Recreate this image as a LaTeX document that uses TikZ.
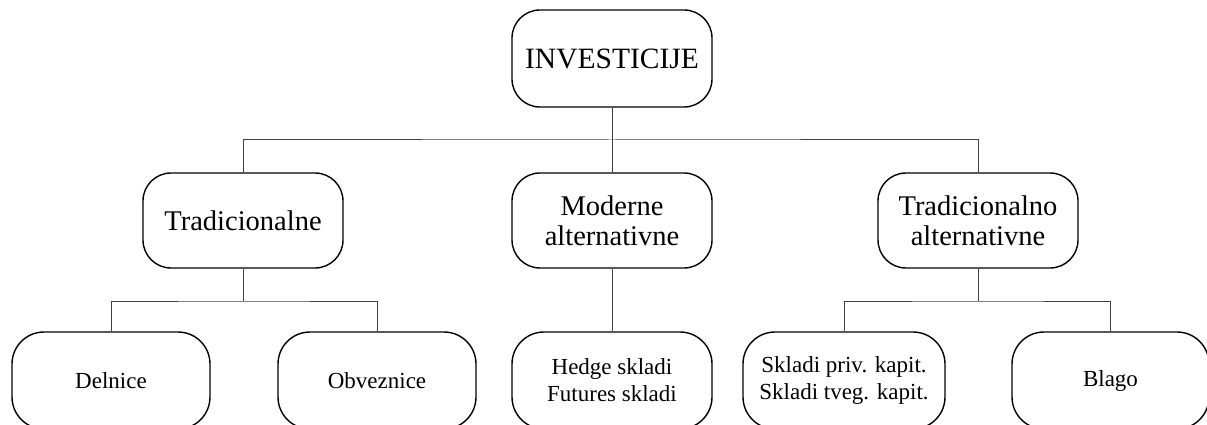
\documentclass[tikz,border=0pt]{standalone}
\usepackage{fontspec}
\setmainfont{Liberation Serif}
\begin{document}
\begin{tikzpicture}[x=1pt,y=-1pt,
  box/.style={draw=black,line width=1.4pt,rounded corners=28pt,align=center,inner sep=0pt},
  topbox/.style={box,minimum width=200pt,minimum height=97pt,font=\fontsize{29.5}{32}\selectfont},
  midbox/.style={box,minimum width=200pt,minimum height=95pt,font=\fontsize{28.5}{30}\selectfont},
  lowbox/.style={box,rounded corners=32pt,minimum width=198pt,minimum height=97pt,font=\fontsize{23}{27}\selectfont},
  conn/.style={draw=black!75,line width=1pt}]
\useasboundingbox (0,0) rectangle (1207,425);
\clip (0,0) rectangle (1207,425);
\node[topbox] (inv) at (612,58.5) {INVESTICIJE};
\node[midbox] (trad) at (243,220.5) {Tradicionalne};
\node[midbox] (mod) at (612,220.5) {Moderne\\alternativne};
\node[midbox] (tradalt) at (978,220.5) {Tradicionalno\\alternativne};
\node[lowbox] (del) at (111,380.5) {Delnice};
\node[lowbox] (obv) at (377,380.5) {Obveznice};
\node[lowbox,minimum width=200pt] (hed) at (612,380.5) {Hedge skladi\\Futures skladi};
\node[lowbox,minimum width=202pt] (skl) at (844,380.5) {Skladi priv. kapit.\\Skladi tveg. kapit.};
\node[lowbox,minimum width=197pt] (bla) at (1110.5,380.5) {Blago};
\coordinate (h1) at (612,140);
\coordinate (h2) at (243,301);
\coordinate (h3) at (978,301);
\draw[conn] (inv.south) -- (h1);
\draw[conn] (trad.north) |- (h1) -| (tradalt.north);
\draw[conn] (h1) -- (mod.north);
\draw[conn] (trad.south) -- (h2);
\draw[conn] (del.north) |- (h2) -| (obv.north);
\draw[conn] (mod.south) -- (hed.north);
\draw[conn] (tradalt.south) -- (h3);
\draw[conn] (skl.north) |- (h3) -| (bla.north);
\end{tikzpicture}
\end{document}
